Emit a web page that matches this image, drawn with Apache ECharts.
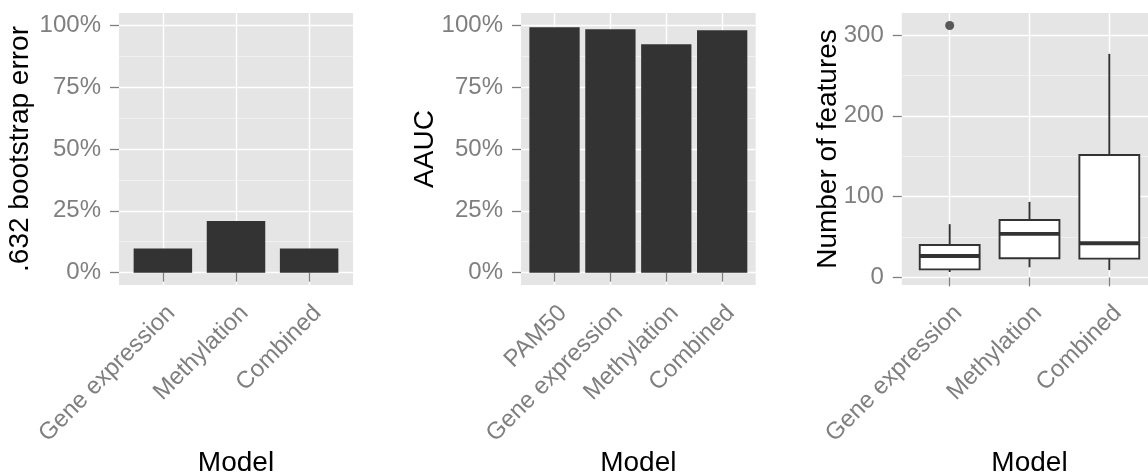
<!DOCTYPE html>
<html><head><meta charset="utf-8">
<script src="https://cdn.jsdelivr.net/npm/echarts@6/dist/echarts.min.js"></script>
<style>html,body{margin:0;padding:0;background:#fff}#c{width:1148px;height:473px}</style>
</head><body><div id="c"></div>
<script>
const errCats = ['Gene expression', 'Methylation', 'Combined'];
const errVals = [9.8, 20.9, 9.8];
const aaucCats = ['PAM50', 'Gene expression', 'Methylation', 'Combined'];
const aaucVals = [99.2, 98.4, 92.4, 98.0];
const featCats = ['Gene expression', 'Methylation', 'Combined'];
// [lower whisker, Q1, median, Q3, upper whisker]
const featBoxes = [
  [6.6, 9.9, 26.4, 40, 65.8],
  [12.4, 23.6, 53.7, 71, 93.4],
  [9, 23.1, 42.2, 151.4, 276.7]
];
// [category index, value]
const featOutliers = [[0, 311.8]];
const pctTicks = [0, 25, 50, 75, 100];
const pctMinor = [12.5, 37.5, 62.5, 87.5];
const featTicks = [0, 100, 200, 300];
const featMinor = [50, 150, 250];

const FONT = "'Liberation Sans', Arial, sans-serif";
const GREY = '#7f7f7f';
const DARK = '#333333';

const chart = echarts.init(document.getElementById('c'), null, {renderer: 'canvas'});

function xAxisFor(gi, cats) {
  const pos = cats.map((_, i) => i + 1);
  return {
    type: 'value', gridIndex: gi, min: 0.4, max: cats.length + 0.6,
    axisLine: {show: false},
    axisTick: {show: true, customValues: pos, length: 9, lineStyle: {color: GREY, width: 1.3}},
    axisLabel: {
      customValues: pos, rotate: 45, verticalAlign: 'top', align: 'right', margin: 16,
      color: GREY, fontSize: 24, fontFamily: FONT,
      formatter: v => cats[Math.round(v) - 1]
    },
    splitLine: {show: true, lineStyle: {color: '#ffffff', width: 1.4}},
    name: 'Model', nameLocation: 'middle', nameGap: 164, nameMoveOverlap: false,
    nameTextStyle: {color: '#000', fontSize: 28, fontFamily: FONT}
  };
}
function yAxesFor(gi, min, max, ticks, minor, fmt, name, gap) {
  return [{
    type: 'value', gridIndex: gi, min: min, max: max,
    axisLine: {show: false},
    axisTick: {show: true, customValues: ticks, length: 9, lineStyle: {color: GREY, width: 1.3}},
    axisLabel: {customValues: ticks, margin: 18, color: GREY, fontSize: 24, fontFamily: FONT, formatter: fmt},
    splitLine: {show: true, lineStyle: {color: '#ffffff', width: 1.4}},
    name: name, nameLocation: 'middle', nameRotate: 90, nameGap: gap, nameMoveOverlap: false,
    nameTextStyle: {color: '#000', fontSize: 28, fontFamily: FONT}
  }, {
    type: 'value', gridIndex: gi, min: min, max: max, position: 'left',
    axisLine: {show: false},
    axisTick: {show: false, customValues: minor},
    axisLabel: {show: false, customValues: minor},
    splitLine: {show: true, lineStyle: {color: '#f2f2f2', width: 0.8}}
  }];
}
function barRender(halfW) {
  return function (params, api) {
    const x = api.value(0), y = api.value(1);
    const p0 = api.coord([x - halfW, y]);
    const p1 = api.coord([x + halfW, 0]);
    return {type: 'rect', shape: {x: p0[0], y: p0[1], width: p1[0] - p0[0], height: p1[1] - p0[1]},
            style: {fill: DARK}};
  };
}
function boxRender(params, api) {
  const x = api.value(0);
  const lo = api.value(1), q1 = api.value(2), md = api.value(3), q3 = api.value(4), hi = api.value(5);
  const hw = 0.375;
  const cx = api.coord([x, 0])[0];
  const xl = api.coord([x - hw, 0])[0], xr = api.coord([x + hw, 0])[0];
  const yLo = api.coord([x, lo])[1], yQ1 = api.coord([x, q1])[1], yMd = api.coord([x, md])[1];
  const yQ3 = api.coord([x, q3])[1], yHi = api.coord([x, hi])[1];
  const ls = {stroke: DARK, lineWidth: 1.9};
  return {type: 'group', children: [
    {type: 'line', shape: {x1: cx, y1: yLo, x2: cx, y2: yQ1}, style: ls},
    {type: 'line', shape: {x1: cx, y1: yQ3, x2: cx, y2: yHi}, style: ls},
    {type: 'rect', shape: {x: xl, y: yQ3, width: xr - xl, height: yQ1 - yQ3}, style: {fill: '#fff', stroke: DARK, lineWidth: 1.9}},
    {type: 'line', shape: {x1: xl, y1: yMd, x2: xr, y2: yMd}, style: {stroke: DARK, lineWidth: 3.8}}
  ]};
}

const pctFmt = v => v + '%';
const grids = [
  {left: 119, width: 234, top: 13, bottom: 188},
  {left: 521, width: 234.7, top: 13, bottom: 188},
  {left: 901.8, width: 255.4, top: 13, bottom: 188}
].map(g => Object.assign(g, {show: true, backgroundColor: '#e5e5e5', borderWidth: 0, containLabel: false, outerBoundsMode: 'none'}));

const option = {
  animation: false,
  textStyle: {fontFamily: FONT},
  grid: grids,
  xAxis: [xAxisFor(0, errCats), xAxisFor(1, aaucCats), xAxisFor(2, featCats)],
  yAxis: [].concat(
    yAxesFor(0, -5, 105, pctTicks, pctMinor, pctFmt, '.632 bootstrap error', 85),
    yAxesFor(1, -5, 105, pctTicks, pctMinor, pctFmt, 'AAUC', 82),
    yAxesFor(2, -9.5, 327.3, featTicks, featMinor, v => String(v), 'Number of features', 60)
  ),
  series: [
    {type: 'custom', xAxisIndex: 0, yAxisIndex: 0, renderItem: barRender(0.4),
     encode: {x: 0, y: 1}, data: errVals.map((v, i) => [i + 1, v])},
    {type: 'custom', xAxisIndex: 1, yAxisIndex: 2, renderItem: barRender(0.45),
     encode: {x: 0, y: 1}, data: aaucVals.map((v, i) => [i + 1, v])},
    {type: 'custom', xAxisIndex: 2, yAxisIndex: 4, renderItem: boxRender,
     encode: {x: 0, y: [1, 2, 3, 4, 5]}, data: featBoxes.map((b, i) => [i + 1].concat(b))},
    {type: 'scatter', xAxisIndex: 2, yAxisIndex: 4, symbol: 'circle', symbolSize: 9,
     itemStyle: {color: DARK}, data: featOutliers.map(o => [o[0] + 1, o[1]])}
  ]
};
chart.setOption(option);
</script></body></html>
